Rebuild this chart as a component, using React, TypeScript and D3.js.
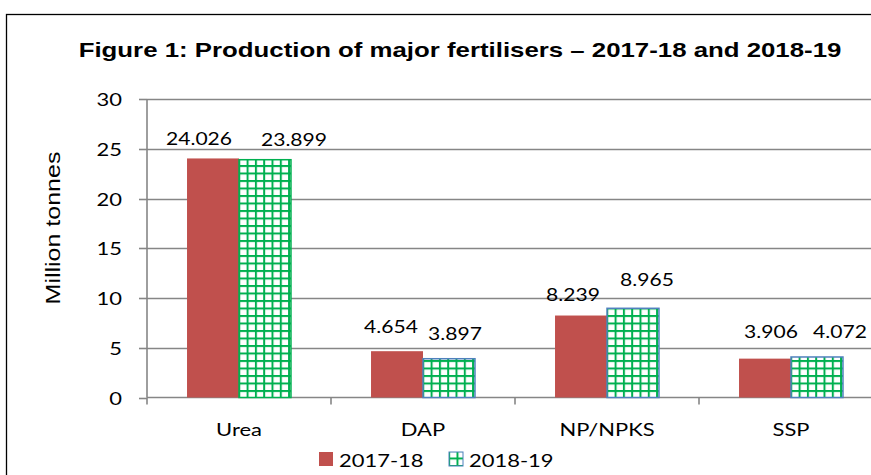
import React, { useRef, useEffect } from 'react';
import * as d3 from 'd3';

const categories = ['Urea', 'DAP', 'NP/NPKS', 'SSP'];
const series = ['2017-18', '2018-19'];
const values2017 = [24.026, 4.654, 8.239, 3.906];
const values2018 = [23.899, 3.897, 8.965, 4.072];
const yTicks = [0, 5, 10, 15, 20, 25, 30];
// hand-placed data labels in the source: nudge [dx, dy] from bar top-centre
const labelNudge2017 = [[-14, -13], [-6, -18], [-8, -15], [6, -21]];
const labelNudge2018 = [[29, -14], [6, -19], [14, -22], [23, -19]];

const RED = '#c0504d';
const GREEN = '#00b050';
const BLUE_EDGE = '#4f81bd';
const GRID = '#868686';
const labelFont = 'Lato, "Open Sans", sans-serif';
const arialFont = '"Liberation Sans", Arial, sans-serif';
const STRETCH = 1.22; // the source text is wider than the fonts we have

const App: React.FC = () => {
  const svgRef = useRef<SVGSVGElement>(null);

  useEffect(() => {
    if (!svgRef.current) return;
    const svg = d3.select(svgRef.current);
    svg.selectAll('*').remove();

    const W = 871, H = 475;
    const margin = { top: 99, left: 147, bottom: 77 };
    const plotW = 184 * 4;

    // small helper: text stretched along its baseline
    const addText = (parent: any, x: number, y: number, txt: string, opts: any = {}) => {
      const t = parent.append('text')
        .attr('transform', `translate(${x},${y})${opts.rotate ? ` rotate(${opts.rotate})` : ''} scale(${opts.sx || STRETCH},1)`)
        .attr('text-anchor', opts.anchor || 'middle')
        .attr('font-family', opts.family || labelFont)
        .attr('font-size', opts.size || '18px')
        .attr('fill', '#000')
        .text(txt);
      if (opts.weight) t.attr('font-weight', opts.weight);
      if (opts.dy) t.attr('dy', opts.dy);
      return t;
    };

    // pattern for the hatched series
    const defs = svg.append('defs');
    const pw = 8.3, ph = 7.5;
    const pat = defs.append('pattern')
      .attr('id', 'grid-pat')
      .attr('patternUnits', 'userSpaceOnUse')
      .attr('width', pw)
      .attr('height', ph);
    pat.append('rect').attr('width', pw).attr('height', ph).attr('fill', '#fff');
    pat.append('rect').attr('x', 0).attr('y', 0).attr('width', 2).attr('height', ph).attr('fill', GREEN);
    pat.append('rect').attr('x', 0).attr('y', 0).attr('width', pw).attr('height', 2).attr('fill', GREEN);

    // outer frame
    svg.append('rect')
      .attr('x', 6.5).attr('y', 14.5)
      .attr('width', 900).attr('height', 500)
      .attr('fill', 'none').attr('stroke', '#000').attr('stroke-width', 1.3);

    addText(svg, 460, 57, 'Figure 1: Production of major fertilisers \u2013 2017-18 and 2018-19',
      { family: arialFont, weight: 'bold', size: '20px', sx: 1.29 });

    const y = d3.scaleLinear().domain([0, 30]).range([H - margin.bottom - 0.5, margin.top]);
    const x0 = d3.scaleBand().domain(categories).range([margin.left, margin.left + plotW]).paddingInner(0).paddingOuter(0);
    const x1 = d3.scaleBand().domain(series).range([0, x0.bandwidth()]).paddingOuter(0.77).paddingInner(0);

    const g = svg.append('g');

    // gridlines
    g.selectAll('.grid')
      .data(yTicks.filter(t => t > 0))
      .enter().append('line')
      .attr('x1', margin.left).attr('x2', W)
      .attr('y1', d => Math.round(y(d)) + 0.5).attr('y2', d => Math.round(y(d)) + 0.5)
      .attr('stroke', GRID).attr('stroke-width', 1.6);

    // y axis line + ticks
    g.append('line')
      .attr('x1', margin.left).attr('x2', margin.left)
      .attr('y1', y(30)).attr('y2', y(0))
      .attr('stroke', GRID).attr('stroke-width', 1.6);
    g.selectAll('.ytick')
      .data(yTicks)
      .enter().append('line')
      .attr('x1', margin.left - 8).attr('x2', margin.left)
      .attr('y1', d => Math.round(y(d)) + 0.5).attr('y2', d => Math.round(y(d)) + 0.5)
      .attr('stroke', GRID).attr('stroke-width', 1.6);
    yTicks.forEach(t => {
      addText(g, 122, Math.round(y(t)) + 0.5, String(t), { anchor: 'end', dy: '0.36em' });
    });

    // x axis
    g.append('line')
      .attr('x1', margin.left).attr('x2', W)
      .attr('y1', y(0)).attr('y2', y(0))
      .attr('stroke', GRID).attr('stroke-width', 1.6);
    g.selectAll('.xtick')
      .data(d3.range(5))
      .enter().append('line')
      .attr('x1', i => margin.left + i * x0.bandwidth())
      .attr('x2', i => margin.left + i * x0.bandwidth())
      .attr('y1', y(0)).attr('y2', y(0) + 7)
      .attr('stroke', GRID).attr('stroke-width', 1.6);
    categories.forEach(c => {
      addText(g, x0(c)! + x0.bandwidth() / 2, y(0) + 38, c);
    });

    const rows = categories.map((c, i) => ({ cat: c, v: [values2017[i], values2018[i]] }));

    const grp = g.selectAll('.cat')
      .data(rows)
      .enter().append('g')
      .attr('transform', d => `translate(${x0(d.cat)},0)`);

    grp.selectAll('rect')
      .data(d => d.v.map((v, k) => ({ v, k, cat: d.cat })))
      .enter().append('rect')
      .attr('x', d => x1(series[d.k])!)
      .attr('width', x1.bandwidth())
      .attr('y', d => y(d.v))
      .attr('height', d => y(0) - y(d.v))
      .attr('fill', d => d.k === 0 ? RED : 'url(#grid-pat)')
      .attr('stroke', d => d.k === 0 ? 'none' : (d.cat === 'Urea' ? GREEN : BLUE_EDGE))
      .attr('stroke-width', 1.5);

    rows.forEach((r, i) => {
      r.v.forEach((v, k) => {
        const [dx, dy] = k === 0 ? labelNudge2017[i] : labelNudge2018[i];
        addText(g, x0(r.cat)! + x1(series[k])! + x1.bandwidth() / 2 + dx, y(v) + dy, v.toFixed(3), { sx: 1.17 });
      });
    });

    // y label
    addText(svg, 60, 228, 'Million tonnes', { family: arialFont, size: '20.5px', rotate: -90 });

    // legend
    const legendX = [319, 449];
    series.forEach((s, i) => {
      svg.append('rect')
        .attr('x', legendX[i]).attr('y', 452)
        .attr('width', 14).attr('height', 14)
        .attr('fill', i === 0 ? RED : 'url(#grid-pat)')
        .attr('stroke', i === 0 ? 'none' : BLUE_EDGE)
        .attr('stroke-width', 1);
      addText(svg, legendX[i] + 20, 467, s, { anchor: 'start' });
    });
  }, []);

  return (
    <svg ref={svgRef} width={871} height={475}
      style={{ position: 'absolute', left: 0, top: 0, background: '#fff' }} />
  );
};

export default App;
